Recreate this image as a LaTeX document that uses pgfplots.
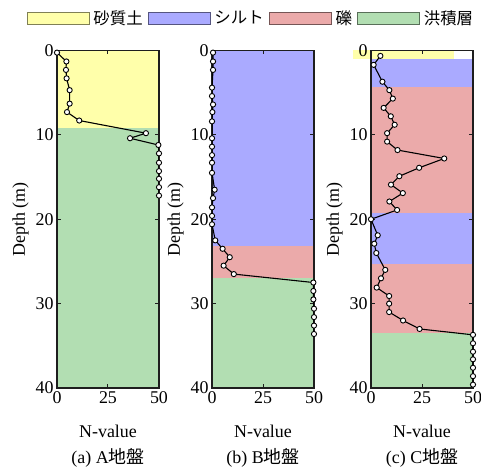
\documentclass[border=0pt]{standalone}
\usepackage{pgfplots}
\pgfplotsset{compat=1.18}
\usepackage{fontspec}
\setmainfont{Liberation Serif}
\newfontfamily\jp{Noto Sans CJK JP}

\definecolor{sandc}{RGB}{255,255,170}
\definecolor{siltc}{RGB}{170,170,255}
\definecolor{gravc}{RGB}{235,170,170}
\definecolor{dilc}{RGB}{178,222,178}
\definecolor{axc}{RGB}{30,30,30}

\pgfplotsset{
  soil/.style={
    set layers,
    scale only axis,
    width=102bp, height=337.5bp,
    anchor=north west,
    xmin=0, xmax=50, ymin=0, ymax=40,
    y dir=reverse,
    xtick={0,25,50}, ytick={0,10,20,30,40},
    tick align=inside,
    major tick length=4bp,
    axis line style={axc, line width=1.2bp},
    tick style={axc, line width=1bp},
    /pgf/number format/assume math mode=true,
    tick label style={font=\fontsize{18}{20}\selectfont},
    label style={font=\fontsize{18}{21}\selectfont},
    ylabel={Depth (m)},
    xlabel style={align=center, yshift=-15bp},
  },
  stratum/.style={on layer=axis background, draw=none, fill=#1, forget plot},
  nval/.style={black, line width=1.1bp, mark=*, mark size=2.6bp,
    mark options={fill=white, draw=black, line width=0.9bp}},
  soilbox/.style={legend image code/.code={
    \draw[##1] (0bp,-6bp) rectangle (62bp,6bp);}},
}

\begin{document}
\begin{tikzpicture}

% (a) A site
\begin{axis}[soil, at={(57bp,418.5bp)},
  xlabel={N-value\\[5bp](a) A{\jp 地盤}},
  legend columns=4,
  legend style={at={(-0.30,1.096)}, anchor=west, draw=none, fill=none,
    inner sep=0pt, font=\fontsize{16.5}{20}\selectfont,
    /tikz/every odd column/.append style={column sep=2bp},
    /tikz/every even column/.append style={column sep=3bp}},
]
\addlegendimage{soilbox, fill=sandc, draw=sandc!50!black, line width=0.8bp}
\addlegendentry{\jp 砂質土}
\addlegendimage{soilbox, fill=siltc, draw=siltc!50!black, line width=0.8bp}
\addlegendentry{\jp シルト}
\addlegendimage{soilbox, fill=gravc, draw=gravc!50!black, line width=0.8bp}
\addlegendentry{\jp 礫}
\addlegendimage{soilbox, fill=dilc, draw=dilc!50!black, line width=0.8bp}
\addlegendentry{\jp 洪積層}
\addplot[stratum=sandc] coordinates {(0,0) (50,0) (50,9.2) (0,9.2)};
\addplot[stratum=dilc] coordinates {(0,9.2) (50,9.2) (50,40) (0,40)};
\addplot[nval, forget plot] coordinates {
  (0,0.25) (4.6,1.3) (4.4,2.3) (4.7,3.3) (6.2,4.7) (6.2,6.3) (4.9,7.3)
  (10.9,8.3) (43.6,9.8) (35.8,10.4) (49.7,11.2) (50,12.2) (50,13.3)
  (50,14.3) (50,15.2) (50,16.2) (50,17.2)};
\end{axis}

% (b) B site
\begin{axis}[soil, at={(212bp,418.5bp)},
  xlabel={N-value\\[5bp](b) B{\jp 地盤}}]
\addplot[stratum=siltc] coordinates {(0,0) (50,0) (50,23.2) (0,23.2)};
\addplot[stratum=gravc] coordinates {(0,23.2) (50,23.2) (50,27.0) (0,27.0)};
\addplot[stratum=dilc] coordinates {(0,27.0) (50,27.0) (50,40) (0,40)};
\addplot[nval] coordinates {
  (0.5,0.25) (0.5,1.3) (0.5,2.3) (0,4.4) (0,5.4) (0.5,6.4) (0.2,7.3)
  (0,8.4) (0,10.4) (0,11.4) (0,12.4) (0,13.3) (0,14.5) (1.3,16.5)
  (0.5,17.5) (0,18.6) (0,19.6) (0,20.6) (1.6,22.5) (5.2,23.5) (8.7,24.5)
  (5.7,25.5) (10.7,26.5) (49.7,27.5) (49.7,28.5) (49.7,29.5) (50,30.6)
  (50,31.6) (50,32.6) (50,33.6)};
\end{axis}

% (c) C site
\begin{axis}[soil, at={(371bp,418.5bp)}, clip=false,
  xlabel={N-value\\[5bp](c) C{\jp 地盤}}]
\addplot[stratum=sandc] coordinates {(-8.9,0) (40.7,0) (40.7,1.0) (-8.9,1.0)};
\addplot[stratum=siltc] coordinates {(0,1.0) (50,1.0) (50,4.3) (0,4.3)};
\addplot[stratum=gravc] coordinates {(0,4.3) (50,4.3) (50,19.3) (0,19.3)};
\addplot[stratum=siltc] coordinates {(0,19.3) (50,19.3) (50,25.3) (0,25.3)};
\addplot[stratum=gravc] coordinates {(0,25.3) (50,25.3) (50,33.5) (0,33.5)};
\addplot[stratum=dilc] coordinates {(0,33.5) (50,33.5) (50,40) (0,40)};
\addplot[nval] coordinates {
  (4.6,0.64) (1.3,1.7) (5.6,3.7) (9.0,4.7) (10.7,5.7) (6.2,6.8) (9.7,7.8)
  (11.6,8.8) (7.9,9.8) (7.9,10.8) (13.0,11.8) (35.9,12.8) (23.6,13.9)
  (13.9,14.9) (9.8,15.9) (15.6,16.9) (9.0,17.9) (12.8,18.9) (0,20.0)
  (3.3,21.9) (1.6,22.9) (2.6,24.0) (7.0,26.0) (4.9,27.0) (2.8,28.1)
  (8.9,29.1) (8.9,30.0) (8.9,31.0) (15.7,32.0) (23.8,33.0) (50,33.7)
  (50,34.7) (50,35.7) (50,36.6) (50,37.6) (50,38.6) (50,39.6)};
\end{axis}

\pgfresetboundingbox
\path[use as bounding box] (0,0) rectangle (481bp,469bp);
\end{tikzpicture}
\end{document}
